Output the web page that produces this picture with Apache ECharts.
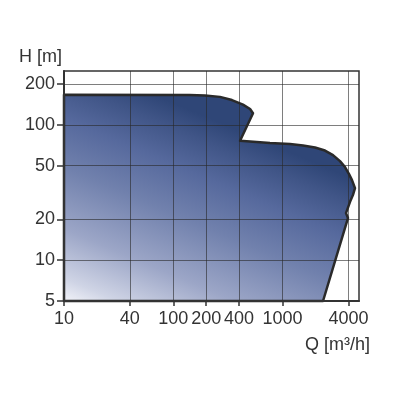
<!DOCTYPE html>
<html>
<head>
<meta charset="utf-8">
<script src="https://cdn.jsdelivr.net/npm/echarts@6/dist/echarts.min.js"></script>
<style>html,body{margin:0;padding:0;background:#fff}#c{width:400px;height:400px}</style>
</head>
<body>
<div id="c"></div>
<script>
// Outline of the operating range, Q [m³/h]
var flowQ = [10, 141, 195, 267, 344, 434, 504, 536, 408, 767, 1169, 1538, 1979, 2441, 2891, 3350, 3723, 4053, 4315, 4596, 4406, 4140, 3802, 3963, 2344, 10];
// Head H [m]
var headH = [167, 166, 165, 161, 152.5, 141, 131, 122, 76.3, 73.4, 72.2, 70.3, 68.0, 64.6, 59.8, 54.0, 48.8, 43.3, 39.1, 34.1, 30.4, 27.0, 22.3, 20.5, 5, 5];
var xTicks = [10, 40, 100, 200, 400, 1000, 4000];
var yTicks = [5, 10, 20, 50, 100, 200];

var chart = echarts.init(document.getElementById('c'), null, {renderer: 'canvas'});
var font = {fontFamily: 'Liberation Sans, Arial, sans-serif', fontSize: 18, color: '#333'};
var gridLine = {show: true, lineStyle: {color: 'rgba(40,40,40,0.6)', width: 1}};
var fmt = function (v) { return String(Math.round(v)); };
var fillGrad = new echarts.graphic.LinearGradient(0, 1, 0.3, 0, [
  {offset: 0, color: '#f4f5fa'},
  {offset: 0.1, color: '#cfd4e5'},
  {offset: 0.3, color: '#9ca6c7'},
  {offset: 0.55, color: '#7181ad'},
  {offset: 0.75, color: '#56699d'},
  {offset: 0.9, color: '#405587'},
  {offset: 1, color: '#2f4677'}
]);

chart.setOption({
  animation: false,
  grid: {left: 64, right: 41, top: 71, bottom: 99, show: true, borderColor: '#333', borderWidth: 1.5, z: 3},
  xAxis: {
    type: 'log', logBase: 10, min: 10, max: 5000, z: 3,
    name: 'Q [m³/h]', nameLocation: 'end', nameGap: 11,
    nameTextStyle: Object.assign({}, font, {align: 'right', verticalAlign: 'top', padding: [35, 0, 0, 0]}),
    axisLine: {show: true, onZero: false, lineStyle: {color: '#333', width: 2}},
    axisTick: {show: true, length: 5, customValues: xTicks, lineStyle: {color: '#333', width: 1.5}},
    axisLabel: Object.assign({}, font, {margin: 9, customValues: xTicks, formatter: fmt}),
    minorTick: {show: false},
    splitLine: gridLine
  },
  yAxis: {
    type: 'log', logBase: 10, min: 5, max: 250, z: 3,
    name: 'H [m]', nameLocation: 'end', nameGap: 5,
    nameTextStyle: Object.assign({}, font, {align: 'right', padding: [0, 2, 0, 0]}),
    axisLine: {show: true, onZero: false, lineStyle: {color: '#333', width: 2}},
    axisTick: {show: true, length: 7, customValues: yTicks, lineStyle: {color: '#333', width: 1.5}},
    axisLabel: Object.assign({}, font, {margin: 9, customValues: yTicks, formatter: fmt}),
    minorTick: {show: false},
    splitLine: gridLine
  },
  series: [{
    type: 'custom',
    coordinateSystem: 'cartesian2d',
    z: 1,
    data: [[flowQ[0], headH[0]]],
    renderItem: function (params, api) {
      var pts = flowQ.map(function (q, i) { return api.coord([q, headH[i]]); });
      return {
        type: 'polygon',
        shape: {points: pts},
        style: {fill: fillGrad, stroke: '#2a2a2a', lineWidth: 2.5, lineJoin: 'round'}
      };
    }
  }]
});
</script>
</body>
</html>
